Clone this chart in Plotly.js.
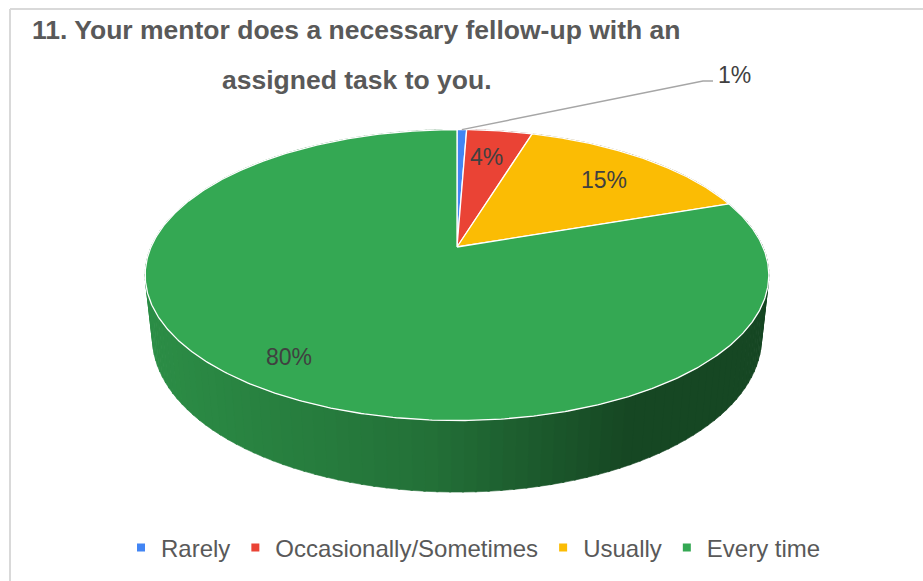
<!DOCTYPE html>
<html>
<head>
<meta charset="utf-8">
<script src="https://cdn.plot.ly/plotly-3.0.1.min.js"></script>
<style>html,body{margin:0;padding:0;background:#fff;}#chart{width:923px;height:581px;}</style>
</head>
<body>
<div id="chart"></div>
<script>
// ---- data ----
const categories = ['Rarely', 'Occasionally/Sometimes', 'Usually', 'Every time'];
const values = [0.6, 4.1, 15.0, 80.3];
const colors = ['#4285F4', '#EA4335', '#FBBC04', '#34A853'];
const titleLine1 = '11. Your mentor does a necessary fellow-up with an';
const titleLine2 = 'assigned task to you.';

// ---- 3D pie projection (perspective view of a tilted disk) ----
const CX = 457, CY = 247, F = 1410, R = 0.217, H = 0.0506;
const SA = Math.sin(27.24 * Math.PI / 180), CA = Math.cos(27.24 * Math.PI / 180);
function proj(r, deg, Y) {
  const th = deg * Math.PI / 180;
  const X = r * Math.sin(th), Z = r * Math.cos(th);
  const yUp = Z * SA + Y * CA;
  const depth = 1 + Z * CA - Y * SA;
  return [CX + F * X / depth, CY - F * yUp / depth];
}
function hexToRgb(h) { return [parseInt(h.slice(1,3),16), parseInt(h.slice(3,5),16), parseInt(h.slice(5,7),16)]; }
function shadeAt(x) {
  const t = Math.min(1, Math.max(0, (x - 147) / 620));
  let f;
  if (t < 0.45) f = 0.84 - (0.84 - 0.67) * (t / 0.45);
  else if (t < 0.78) f = 0.67 - (0.67 - 0.42) * ((t - 0.45) / 0.33);
  else f = 0.42;
  return f;
}
function shaded(hex, f) {
  const c = hexToRgb(hex);
  return 'rgb(' + c.map(v => Math.round(v * f)).join(',') + ')';
}

const total = values.reduce((a, b) => a + b, 0);
const angles = [];
let acc = 0;
values.forEach(v => { const a0 = acc / total * 360; acc += v; angles.push([a0, acc / total * 360]); });

const traces = [];
// side walls
angles.forEach(([a0, a1], i) => {
  const step = 2;
  for (let t = a0; t < a1 - 1e-9; t += step) {
    const t1 = Math.min(a1, t + step);
    const p = [proj(R, t, 0), proj(R, t1 + 0.3, 0), proj(R, t1 + 0.3, -H), proj(R, t, -H)];
    const mx = (p[0][0] + p[1][0]) / 2;
    const col = shaded(colors[i], shadeAt(mx));
    traces.push({
      type: 'scatter', mode: 'lines', fill: 'toself',
      x: p.map(q => q[0]).concat([p[0][0]]), y: p.map(q => q[1]).concat([p[0][1]]),
      fillcolor: col, line: {color: col, width: 0.6},
      hoverinfo: 'skip', showlegend: false
    });
  }
});
// top faces
angles.forEach(([a0, a1], i) => {
  const xs = [], ys = [];
  const c = proj(0, 0, 0);
  xs.push(c[0]); ys.push(c[1]);
  const n = Math.max(2, Math.ceil((a1 - a0) / 0.5));
  for (let k = 0; k <= n; k++) {
    const p = proj(R, a0 + (a1 - a0) * k / n, 0);
    xs.push(p[0]); ys.push(p[1]);
  }
  xs.push(c[0]); ys.push(c[1]);
  traces.push({
    type: 'scatter', mode: 'lines', fill: 'toself', x: xs, y: ys,
    fillcolor: colors[i], line: {color: '#ffffff', width: 1.3},
    hoverinfo: 'skip', showlegend: false, name: categories[i]
  });
});

// labels
const annotations = [];
const LEADER_END = [703, 81];
const labelFont = {family: 'Liberation Sans, Arial, sans-serif', size: 23, color: '#404040'};
angles.forEach(([a0, a1], i) => {
  const pct = Math.round(values[i] / total * 100) + '%';
  const mid = (a0 + a1) / 2;
  if (values[i] / total < 0.02) {
    const s = proj(R, mid, 0);
    traces.push({
      type: 'scatter', mode: 'lines',
      x: [s[0], LEADER_END[0], LEADER_END[0] + 10], y: [s[1], LEADER_END[1], LEADER_END[1]],
      line: {color: '#a6a6a6', width: 1.5}, hoverinfo: 'skip', showlegend: false
    });
    annotations.push({x: LEADER_END[0] + 13, y: LEADER_END[1] - 6, xref: 'x', yref: 'y', text: pct,
      showarrow: false, xanchor: 'left', yanchor: 'middle', font: labelFont});
  } else {
    const p = proj(R * 0.8, mid, 0);
    annotations.push({x: p[0] - 6, y: p[1] + 6, xref: 'x', yref: 'y', text: pct,
      showarrow: false, xanchor: 'center', yanchor: 'middle', font: labelFont});
  }
});
const titleFont = {family: 'Liberation Sans, Arial, sans-serif', size: 26.5, color: '#595959'};
annotations.push({x: 30, y: 30, xref: 'x', yref: 'y', text: '<b>' + titleLine1 + '</b>', showarrow: false,
  xanchor: 'left', yanchor: 'middle', font: titleFont});
annotations.push({x: 357, y: 80, xref: 'x', yref: 'y', text: '<b>' + titleLine2 + '</b>', showarrow: false,
  xanchor: 'center', yanchor: 'middle', font: titleFont});

// legend entries
categories.forEach((c, i) => {
  traces.push({type: 'scatter', mode: 'markers', x: [null], y: [null], name: c,
    marker: {symbol: 'square', size: 8, color: colors[i]}, showlegend: true, hoverinfo: 'skip'});
});

const layout = {
  width: 923, height: 581,
  margin: {l: 0, r: 0, t: 0, b: 0},
  paper_bgcolor: '#ffffff', plot_bgcolor: '#ffffff',
  xaxis: {range: [0, 923], visible: false, fixedrange: true},
  yaxis: {range: [581, 0], visible: false, fixedrange: true},
  showlegend: true,
  legend: {orientation: 'h', x: 0.5 + 12 / 923, xanchor: 'center', y: 1 - 548 / 581, yanchor: 'middle',
    font: {family: 'Liberation Sans, Arial, sans-serif', size: 24, color: '#595959'},
    bgcolor: 'rgba(0,0,0,0)', itemwidth: 30, traceorder: 'normal'},
  annotations: annotations,
  shapes: [
    {type: 'line', xref: 'paper', yref: 'paper', x0: 10 / 923, x1: 10 / 923, y0: 0, y1: 1 - 9 / 581, line: {color: '#d9d9d9', width: 2}},
    {type: 'line', xref: 'paper', yref: 'paper', x0: 10 / 923, x1: 1, y0: 1 - 9 / 581, y1: 1 - 9 / 581, line: {color: '#d9d9d9', width: 2}}
  ],
  hovermode: false
};
Plotly.newPlot('chart', traces, layout, {displayModeBar: false, staticPlot: true});
</script>
</body>
</html>
